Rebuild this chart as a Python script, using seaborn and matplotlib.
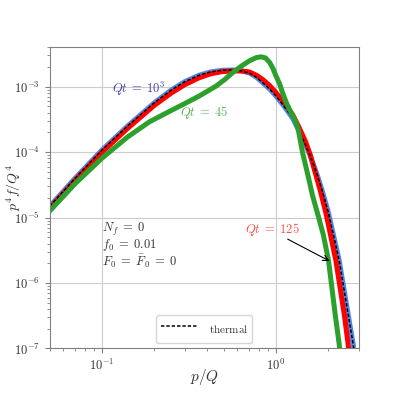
import numpy as np
import seaborn as sns
import matplotlib
matplotlib.use("Agg")
import matplotlib.pyplot as plt
from matplotlib.ticker import FuncFormatter, NullFormatter

###############################################################################
# data

# Qt = 10^3
p_blue = [0.05, 0.07, 0.1, 0.14, 0.2, 0.25, 0.3, 0.362, 0.42, 0.49, 0.563,
          0.63, 0.703, 0.77, 0.838, 0.92, 1.0, 1.12, 1.246, 1.36, 1.47, 1.57,
          1.65, 1.734, 1.85, 2.0, 2.31, 2.60, 2.78, 2.86]
y_blue = [1.49e-5, 4.0e-5, 1.08e-4, 2.5e-4, 5.7e-4, 8.9e-4, 1.2e-3, 1.5e-3,
          1.68e-3, 1.78e-3, 1.80e-3, 1.75e-3, 1.62e-3, 1.40e-3, 1.15e-3,
          9.2e-4, 7.2e-4, 4.9e-4, 3.3e-4, 2.07e-4, 1.35e-4, 8.9e-5, 6.25e-5,
          4.3e-5, 2.5e-5, 1.2e-5, 2.2e-6, 3.3e-7, 1.15e-7, 6e-8]

# thermal (sits on top of the Qt = 10^3 curve)
p_thermal = list(p_blue)
y_thermal = list(y_blue)

# Qt = 125
p_red = [0.05, 0.07, 0.1, 0.14, 0.2, 0.25, 0.3, 0.362, 0.42, 0.49, 0.563,
         0.63, 0.703, 0.77, 0.838, 0.92, 1.0, 1.12, 1.246, 1.36, 1.47, 1.57,
         1.68, 1.80, 1.94, 2.21, 2.47, 2.60, 2.66]
y_red = [1.38e-5, 3.7e-5, 1.0e-4, 2.3e-4, 5.2e-4, 8.0e-4, 1.08e-3, 1.37e-3,
         1.57e-3, 1.70e-3, 1.74e-3, 1.74e-3, 1.68e-3, 1.50e-3, 1.29e-3,
         1.04e-3, 8.1e-4, 5.6e-4, 3.75e-4, 2.35e-4, 1.5e-4, 9.3e-5, 4.9e-5,
         2.55e-5, 1.15e-5, 2.2e-6, 3.3e-7, 1.15e-7, 6e-8]

# Qt = 45
p_green = [0.05, 0.07, 0.1, 0.14, 0.187, 0.24, 0.29, 0.362, 0.452, 0.51,
           0.563, 0.63, 0.703, 0.77, 0.82, 0.87, 0.92, 0.96, 1.0, 1.05, 1.09,
           1.15, 1.2, 1.25, 1.30, 1.343, 1.42, 1.53, 1.62, 1.734, 1.87, 2.005,
           2.19, 2.31, 2.36]
y_green = [1.26e-5, 3.3e-5, 8.1e-5, 1.7e-4, 2.9e-4, 4.1e-4, 5.3e-4, 7.2e-4,
           1.02e-3, 1.3e-3, 1.64e-3, 2.05e-3, 2.48e-3, 2.78e-3, 2.86e-3,
           2.75e-3, 2.34e-3, 1.9e-3, 1.46e-3, 1.1e-3, 8.1e-4, 5.6e-4, 4.4e-4,
           3.6e-4, 2.9e-4, 2.2e-4, 1.0e-4, 4.3e-5, 2.2e-5, 1.15e-5, 5.5e-6,
           2.2e-6, 3.3e-7, 1.15e-7, 6e-8]

params_text = [r'$N_f\;=\;0$', r'$f_0\;=\;0.01$', r'$F_0\;=\;\bar{F}_0\;=\;0$']
params_y = [6.6e-6, 3.8e-6, 2.15e-6]

###############################################################################
# style

sns.set_style('ticks')
plt.rcParams['mathtext.fontset'] = 'cm'
plt.rcParams['font.family'] = ['DejaVu Serif']
plt.rcParams['axes.edgecolor'] = '#808080'
plt.rcParams['xtick.color'] = '#808080'
plt.rcParams['ytick.color'] = '#808080'
plt.rcParams['xtick.labelcolor'] = '#333333'
plt.rcParams['ytick.labelcolor'] = '#333333'

fig = plt.figure(figsize=(3.99, 3.99), dpi=100)
ax = fig.add_axes([0.1246, 0.1266, 0.7751, 0.7549])

# plotting
sns.lineplot(x=p_blue, y=y_blue, ax=ax, color='#4f86e6', lw=3.6,
             sort=False, estimator=None)
sns.lineplot(x=p_red, y=y_red, ax=ax, color='#ff0000', lw=3.6,
             sort=False, estimator=None)
sns.lineplot(x=p_thermal, y=y_thermal, ax=ax, color='black', lw=1.1,
             sort=False, estimator=None, label='thermal',
             linestyle=(0, (2.2, 1.3)))
sns.lineplot(x=p_green, y=y_green, ax=ax, color='#2ca02c', lw=3.6,
             sort=False, estimator=None)

ax.set_xscale('log')
ax.set_yscale('log')
ax.set_xlim(0.05, 3.0)
ax.set_ylim(1e-7, 4e-3)

fmt = FuncFormatter(lambda v, _: r'$10^{%d}$' % int(round(np.log10(v))))
ax.xaxis.set_major_formatter(fmt)
ax.yaxis.set_major_formatter(fmt)
ax.xaxis.set_minor_formatter(NullFormatter())
ax.yaxis.set_minor_formatter(NullFormatter())
ax.tick_params(which='both', labelsize=9)

ax.grid(True, which='major', color='#cccccc', lw=0.8)
ax.set_axisbelow(True)

ax.set_xlabel('$p/Q$', fontsize=11, color='#333333')
ax.set_ylabel('$p^4 f/Q^4$', fontsize=10, color='#333333', va='center')
ax.xaxis.set_label_coords(0.5, -0.062)
ax.yaxis.set_label_coords(-0.118, 0.535)

# annotations
ax.text(0.162, 9.1e-4, r'$Qt\;=\;10^3$', color='#4040b0', fontsize=9,
        ha='center', va='center')
ax.text(0.387, 4.0e-4, r'$Qt\;=\;45$', color='#55b555', fontsize=9,
        ha='center', va='center')
ax.text(0.952, 6.6e-6, r'$Qt\;=\;125$', color='#ff4d4d', fontsize=9,
        ha='center', va='center')
ax.annotate('', xy=(2.1, 2.07e-6), xytext=(1.13, 4.9e-6),
            arrowprops=dict(arrowstyle='->', color='black', lw=0.8))
for txt, yy in zip(params_text, params_y):
    ax.text(0.0995, yy, txt, color='#333333', fontsize=9,
            ha='left', va='center')

leg = ax.legend(loc='lower center', fontsize=8, handlelength=3.3,
                handleheight=2.2, handletextpad=1.0, borderpad=0.4,
                frameon=True)
for txt in leg.get_texts():
    txt.set_text(r'$\mathrm{thermal}$')
    txt.set_color('#333333')

fig.savefig('out.png', dpi=100)
